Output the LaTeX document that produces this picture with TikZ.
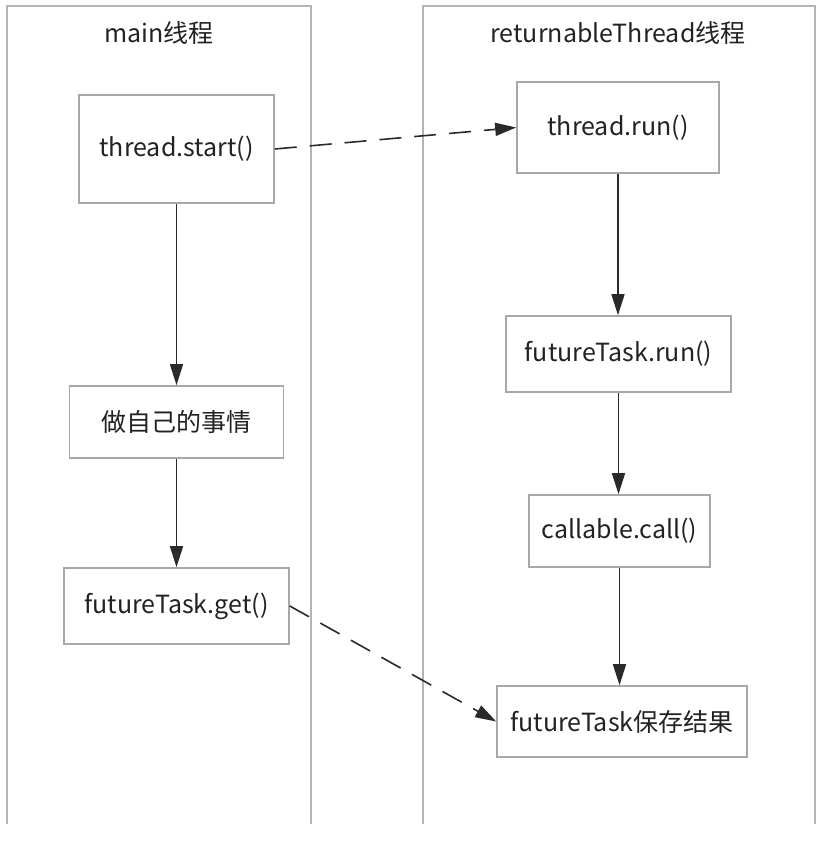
\documentclass[tikz,border=0pt]{standalone}
\usepackage{fontspec}
\setmainfont{Noto Sans CJK SC}
\usetikzlibrary{arrows.meta}
\definecolor{laneline}{HTML}{B4B4B4}
\definecolor{boxline}{HTML}{A8A8A8}
\definecolor{arrowline}{HTML}{2A2A2A}
\definecolor{txt}{HTML}{222222}
\tikzset{
  every node/.style={font=\fontsize{25}{28}\selectfont, text=txt},
  stepbox/.style={draw=boxline, line width=1.6pt, fill=white, inner sep=0pt, anchor=center},
  flow/.style={draw=arrowline, line width=1.6pt, -{Triangle[length=21pt,width=13pt]}},
  dflow/.style={draw=arrowline, line width=1.6pt, dash pattern=on 22pt off 13pt, -{Triangle[length=21pt,width=13pt]}},
  lane/.style={draw=laneline, line width=1.6pt},
}
\begin{document}
\begin{tikzpicture}[x=1pt, y=-1pt]
\useasboundingbox (0,0) rectangle (827,846);
% lanes
\draw[lane] (7,824) -- (7,6) -- (311,6) -- (311,824);
\draw[lane] (423,824) -- (423,6) -- (815,6) -- (815,824);
\node (t1) at (159,33) {main线程};
\node (t2) at (618,33) {returnableThread线程};
% left lane
\node[stepbox, minimum width=195pt, minimum height=108pt] (start) at (176.5,149) {thread.start()};
\node[stepbox, minimum width=214pt, minimum height=72pt] (own) at (176.5,422) {做自己的事情};
\node[stepbox, minimum width=225pt, minimum height=76pt] (get) at (176.5,606) {futureTask.get()};
% right lane
\node[stepbox, minimum width=202pt, minimum height=91pt] (trun) at (618,127.5) {thread.run()};
\node[stepbox, minimum width=225pt, minimum height=76pt] (frun) at (618.5,354) {futureTask.run()};
\node[stepbox, minimum width=181pt, minimum height=72pt] (call) at (619.5,531) {callable.call()};
\node[stepbox, minimum width=250pt, minimum height=71pt] (save) at (622,721.5) {futureTask保存结果};
% connectors
\draw[flow] (start.south) -- (own.north);
\draw[flow] (own.south) -- (get.north);
\draw[flow] (trun.south) -- (trun.south |- frun.north);
\draw[flow] (frun.south) -- (frun.south |- call.north);
\draw[flow] (call.south) -- (call.south |- save.north);
\draw[dflow] (start.east) -- (trun.west);
\draw[dflow] (get.east) -- (save.west);
\end{tikzpicture}
\end{document}
